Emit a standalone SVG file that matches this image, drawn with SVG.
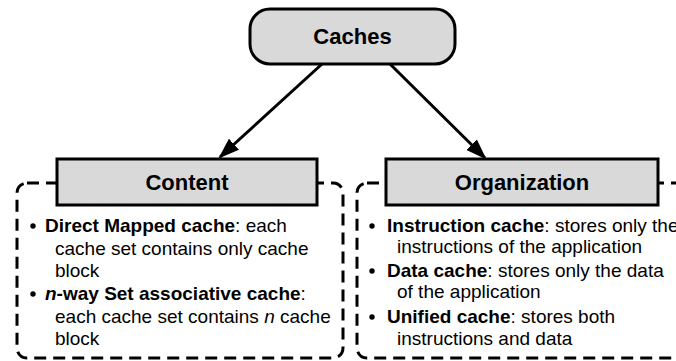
<svg xmlns="http://www.w3.org/2000/svg" width="676" height="361" viewBox="0 0 676 361">
<style>
text { font-family: "Liberation Sans", Arial, sans-serif; fill: #000; }
.title { font-size: 22px; font-weight: bold; text-anchor: middle; }
.body { font-size: 19px; }
.b { font-weight: bold; }
.i { font-style: italic; }
.box { fill: #d9d9d9; stroke: #000; stroke-width: 3; }
.group { fill: none; stroke: #000; stroke-width: 3; stroke-dasharray: 12 7; }
.conn { stroke: #000; stroke-width: 3; fill: none; }
</style>
<defs>
<marker id="arrow" viewBox="0 0 10 10" refX="9" refY="5" markerWidth="7" markerHeight="5" markerUnits="strokeWidth" orient="auto" preserveAspectRatio="none">
<path d="M0,0 L10,5 L0,10 z" fill="#000"/>
</marker>
</defs>

<g id="content-group">
<rect class="group" x="17" y="183" width="326" height="175" rx="10"/>
</g>
<g id="organization-group">
<rect class="group" x="357" y="183" width="345" height="175" rx="10"/>
</g>

<g id="connectors">
<line class="conn" x1="322" y1="64" x2="220" y2="157" marker-end="url(#arrow)"/>
<line class="conn" x1="390" y1="64" x2="485" y2="158" marker-end="url(#arrow)"/>
</g>

<g id="caches">
<rect class="box" x="250" y="9" width="205" height="55" rx="20"/>
<text class="title" x="352.5" y="44">Caches</text>
</g>

<g id="content">
<rect class="box" x="57" y="159" width="260" height="46"/>
<text class="title" x="187" y="190">Content</text>
<circle cx="33" cy="226" r="2.7"/>
<text class="body" x="45" y="232"><tspan class="b">Direct Mapped cache</tspan>: each</text>
<text class="body" x="55" y="255">cache set contains only cache</text>
<text class="body" x="55" y="277">block</text>
<circle cx="33" cy="294" r="2.7"/>
<text class="body" x="45" y="300"><tspan class="b"><tspan class="i">n</tspan>-way Set associative cache</tspan>:</text>
<text class="body" x="55" y="323">each cache set contains <tspan class="i">n</tspan> cache</text>
<text class="body" x="55" y="345">block</text>
</g>

<g id="organization">
<rect class="box" x="386" y="159" width="272" height="46"/>
<text class="title" x="522" y="190">Organization</text>
<circle cx="372" cy="226" r="2.7"/>
<text class="body" x="387" y="232"><tspan class="b">Instruction cache</tspan>: stores only the</text>
<text class="body" x="397" y="253">instructions of the application</text>
<circle cx="372" cy="271" r="2.7"/>
<text class="body" x="387" y="277"><tspan class="b">Data cache</tspan>: stores only the data</text>
<text class="body" x="397" y="298">of the application</text>
<circle cx="372" cy="317" r="2.7"/>
<text class="body" x="387" y="323"><tspan class="b">Unified cache</tspan>: stores both</text>
<text class="body" x="397" y="345">instructions and data</text>
</g>
</svg>
